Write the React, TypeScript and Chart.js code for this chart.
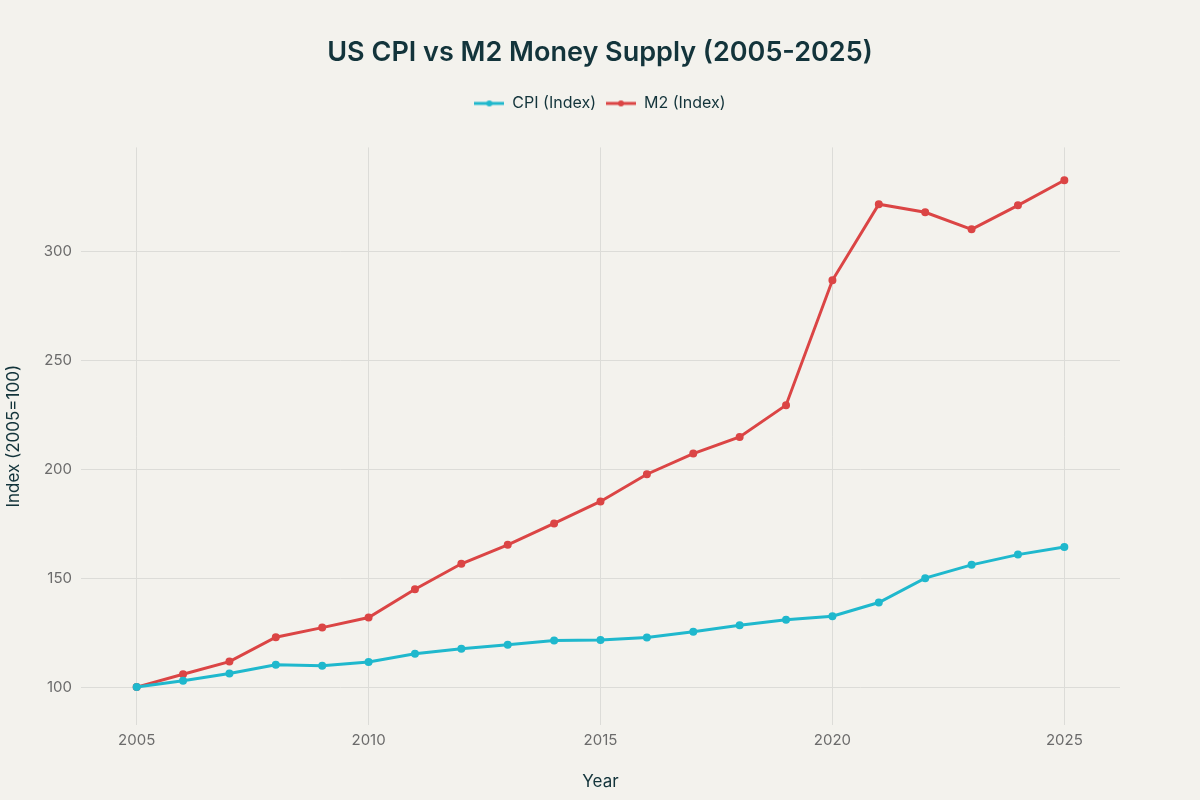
import { useEffect, useRef } from "react";
import { Chart, registerables } from "chart.js";

Chart.register(...registerables);

const years = [
  2005, 2006, 2007, 2008, 2009, 2010, 2011, 2012, 2013, 2014, 2015, 2016,
  2017, 2018, 2019, 2020, 2021, 2022, 2023, 2024, 2025,
];
const cpiIndex = [
  100, 102.9, 106.2, 110.2, 109.8, 111.5, 115.3, 117.6, 119.4, 121.4, 121.6,
  122.8, 125.4, 128.4, 130.9, 132.5, 138.8, 150.0, 156.1, 160.8, 164.3,
];
const m2Index = [
  100, 105.9, 111.7, 122.9, 127.3, 131.9, 144.9, 156.6, 165.3, 175.1, 185.2,
  197.7, 207.2, 214.8, 229.4, 286.7, 321.6, 317.9, 310.1, 321.1, 332.6,
];
const xTicks = [2005, 2010, 2015, 2020, 2025];
const yTicks = [100, 150, 200, 250, 300];

const FONT = "Inter, 'Liberation Sans', sans-serif";
const BG = "#f3f2ed";
const CPI_COLOR = "#1fb8cd";
const M2_COLOR = "#db4545";

// legend marker: short line with a dot in the middle
function legendMarker(color: string) {
  const c = document.createElement("canvas");
  c.width = 30;
  c.height = 8;
  const g = c.getContext("2d")!;
  g.strokeStyle = color;
  g.lineWidth = 3;
  g.beginPath();
  g.moveTo(0, 4);
  g.lineTo(30, 4);
  g.stroke();
  g.fillStyle = color;
  g.beginPath();
  g.arc(15, 4, 3, 0, Math.PI * 2);
  g.fill();
  return c;
}

const bgPlugin = {
  id: "bg",
  beforeDraw(chart: any) {
    const { ctx, width, height } = chart;
    ctx.save();
    ctx.fillStyle = BG;
    ctx.fillRect(0, 0, width, height);
    ctx.restore();
  },
};

const legendSpace = {
  id: "legendSpace",
  beforeInit(chart: any) {
    const fit = chart.legend.fit;
    chart.legend.fit = function () {
      fit.call(this);
      this.height += 26;
    };
  },
};

export default function App() {
  const canvasRef = useRef<HTMLCanvasElement>(null);
  const chartRef = useRef<Chart | null>(null);

  useEffect(() => {
    document.body.style.margin = "0";
    document.body.style.background = BG;
    if (!canvasRef.current) return;
    const ctx = canvasRef.current.getContext("2d");
    if (!ctx) return;
    if (chartRef.current) chartRef.current.destroy();

    const markers = [legendMarker(CPI_COLOR), legendMarker(M2_COLOR)];

    chartRef.current = new Chart(ctx, {
      type: "line",
      data: {
        datasets: [
          {
            label: "CPI (Index)",
            data: years.map((y, i) => ({ x: y, y: cpiIndex[i] })),
            borderColor: CPI_COLOR,
            backgroundColor: CPI_COLOR,
            borderWidth: 3,
            pointRadius: 2.5,
            pointHoverRadius: 4,
            tension: 0,
          },
          {
            label: "M2 (Index)",
            data: years.map((y, i) => ({ x: y, y: m2Index[i] })),
            borderColor: M2_COLOR,
            backgroundColor: M2_COLOR,
            borderWidth: 3,
            pointRadius: 2.5,
            pointHoverRadius: 4,
            tension: 0,
          },
        ],
      },
      options: {
        animation: false,
        responsive: true,
        maintainAspectRatio: false,
        layout: { padding: 0 },
        plugins: {
          title: {
            display: true,
            text: "US CPI vs M2 Money Supply (2005-2025)",
            color: "#13343b",
            font: { family: FONT, size: 27, weight: 600 },
            padding: { top: 37, bottom: 16 },
          },
          legend: {
            display: true,
            labels: {
              color: "#13343b",
              font: { family: FONT, size: 16 },
              usePointStyle: true,
              pointStyleWidth: 30,
              boxHeight: 8,
              padding: 10,
              generateLabels: (chart: any) =>
                chart.data.datasets.map((ds: any, i: number) => ({
                  text: ds.label,
                  pointStyle: markers[i],
                  fillStyle: ds.borderColor,
                  strokeStyle: ds.borderColor,
                  fontColor: "#13343b",
                  lineWidth: 0,
                  hidden: false,
                  datasetIndex: i,
                })),
            },
          },
          tooltip: { enabled: true },
        },
        scales: {
          x: {
            type: "linear",
            min: 2003.8,
            max: 2026.2,
            afterBuildTicks: (s: any) => {
              s.ticks = xTicks.map((v) => ({ value: v }));
            },
            afterFit: (s: any) => {
              s.height = 75;
            },
            border: { display: false },
            grid: { color: "#dcdcd8", lineWidth: 1, drawTicks: false },
            ticks: {
              color: "#6b6b6b",
              font: { family: FONT, size: 15 },
              padding: 6,
              callback: (v: any) => String(v),
            },
            title: {
              display: true,
              text: "Year",
              color: "#13343b",
              font: { family: FONT, size: 17 },
              padding: { top: 4, bottom: 8 },
            },
          },
          y: {
            type: "linear",
            min: 82.6,
            max: 347.7,
            afterBuildTicks: (s: any) => {
              s.ticks = yTicks.map((v) => ({ value: v }));
            },
            afterFit: (s: any) => {
              s.width = 81;
            },
            border: { display: false },
            grid: { color: "#dcdcd8", lineWidth: 1, drawTicks: false },
            ticks: {
              color: "#6b6b6b",
              font: { family: FONT, size: 15 },
              padding: 9,
              callback: (v: any) => String(v),
            },
            title: {
              display: true,
              text: "Index (2005=100)",
              color: "#13343b",
              font: { family: FONT, size: 17 },
              padding: { top: 4, bottom: 4 },
            },
          },
          // empty right-hand margin so title and legend stay centred on the page
          yRight: {
            type: "linear",
            position: "right",
            display: true,
            afterFit: (s: any) => {
              s.width = 80;
            },
            border: { display: false },
            grid: { display: false, drawTicks: false },
            ticks: { display: false },
          },
        },
      },
      plugins: [bgPlugin, legendSpace],
    });

    return () => {
      if (chartRef.current) {
        chartRef.current.destroy();
        chartRef.current = null;
      }
    };
  }, []);

  return (
    <div style={{ position: "relative", width: "1200px", height: "800px", background: BG }}>
      <canvas ref={canvasRef} />
    </div>
  );
}
